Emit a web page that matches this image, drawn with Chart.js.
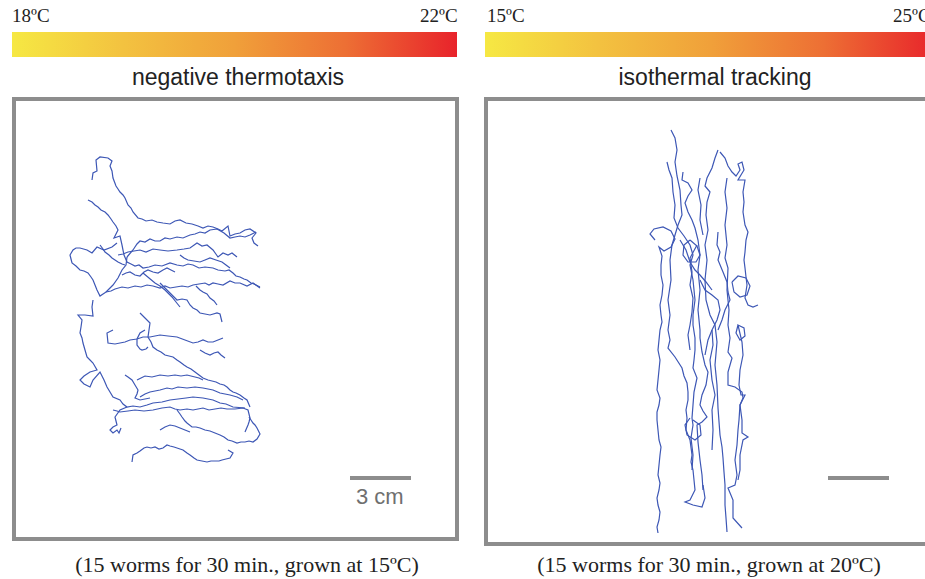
<!DOCTYPE html>
<html>
<head>
<meta charset="utf-8">
<script src="https://cdn.jsdelivr.net/npm/chart.js@4"></script>
<style>
  html, body { margin: 0; padding: 0; background: #fff; }
  #page { position: relative; width: 925px; height: 579px; overflow: hidden; }
  #tracks { position: absolute; left: 0; top: 0; }
  .temp { position: absolute; top: 5px; font: 19px "Liberation Serif", serif; color: #222; }
  .bar { position: absolute; top: 32px; height: 25px;
         background: linear-gradient(to right, #f6e843 0%, #f3c240 25%, #f0a03a 50%, #ed6f34 75%, #e8232b 100%); }
  .title { position: absolute; top: 64px; width: 460px; text-align: center;
           font: 23px "Liberation Sans", Arial, sans-serif; color: #222; }
  .box { position: absolute; border: 4px solid #8d8d8d; box-sizing: border-box; }
  .scalebar { position: absolute; height: 4px; background: #8d8d8d; }
  .scaletxt { position: absolute; font: 22px "Liberation Sans", Arial, sans-serif; color: #6f6f6f; }
  .caption { position: absolute; top: 552px; font: 22px "Liberation Serif", serif; color: #222; text-align: center; width: 460px; }
</style>
</head>
<body>
<div id="page">
  <div class="temp" id="tL1" style="left:12px"></div>
  <div class="temp" id="tL2" style="left:420px"></div>
  <div class="temp" id="tR1" style="left:487px"></div>
  <div class="temp" id="tR2" style="left:893px"></div>
  <div class="bar" style="left:12px; width:445px"></div>
  <div class="bar" style="left:485px; width:452px"></div>
  <div class="title" id="titleL" style="left:8px"></div>
  <div class="title" id="titleR" style="left:485px"></div>
  <div class="box" style="left:12px; top:97px; width:447px; height:444px"></div>
  <div class="box" style="left:484px; top:97px; width:460px; height:449px"></div>
  <div class="scalebar" style="left:350px; top:476px; width:61px"></div>
  <div class="scalebar" style="left:828px; top:476px; width:61px"></div>
  <div class="scaletxt" id="scaleL" style="left:356px; top:484px"></div>
  <div class="caption" id="capL" style="left:17px"></div>
  <div class="caption" id="capR" style="left:479px"></div>
  <canvas id="tracks" width="925" height="579"></canvas>
</div>
<script>
// labels
const tempLabelsL = ["18ºC", "22ºC"];
const tempLabelsR = ["15ºC", "25ºC"];
const panelTitles = ["negative thermotaxis", "isothermal tracking"];
const captions = ["(15 worms for 30 min., grown at 15ºC)", "(15 worms for 30 min., grown at 20ºC)"];
const scaleLabel = "3 cm";

// worm tracks, negative thermotaxis plate (x, y)
const negTracks = [
  [[92,180],[93,173],[97,171],[96,160],[100,157],[108,158],[112,161],[110,166],[112,171],[113,178],[116,186],[118,189],[120,192],[123,195],[125,198],[128,205],[131,208],[133,212],[138,218],[142,219],[146,221],[152,220],[157,222],[163,223],[170,224],[175,221],[180,220],[186,223],[192,224],[198,226],[203,228],[208,226],[213,227],[218,229],[222,231],[228,226],[230,236],[235,234],[240,233],[245,230],[250,229],[256,233],[252,238],[254,243],[258,246]],
  [[88,200],[92,202],[95,205],[98,207],[101,210],[105,212],[108,215],[111,219],[113,222],[116,226],[118,230],[114,238],[120,236],[122,245],[124,255],[127,262],[131,264],[135,266],[139,265],[143,268],[149,267],[155,265],[162,266],[170,263],[177,265],[183,266],[188,264],[193,265],[199,268],[205,267],[213,268],[218,270],[225,271],[229,270],[233,273],[236,276],[240,277],[244,279],[247,280],[251,283],[254,284],[260,287]],
  [[117,243],[112,247],[104,250],[97,247],[92,253],[87,250],[80,248],[76,248],[73,250],[70,255],[71,259],[72,263],[76,266],[80,270],[84,271],[88,273],[91,277],[93,280],[95,285],[97,290],[100,296],[106,292],[111,291],[115,289],[122,287],[128,288],[135,286],[141,287],[147,285],[153,286],[160,288],[165,286],[170,288],[176,287],[182,286],[188,287],[193,285],[199,284],[205,283],[209,285],[213,283],[218,284],[223,285],[230,281],[235,283],[240,283],[247,286],[253,283],[260,288]],
  [[127,257],[133,250],[137,244],[140,241],[145,242],[150,239],[155,241],[160,241],[165,238],[170,239],[177,237],[183,238],[190,235],[195,234],[200,232],[205,233],[210,230],[217,229],[224,233],[230,238],[235,237],[240,236],[245,237],[250,235],[256,232]],
  [[118,255],[123,254],[128,252],[134,251],[140,250],[146,252],[153,249],[160,250],[168,251],[177,250],[184,249],[190,248],[197,243],[202,246],[207,245],[213,250],[218,257],[223,253],[228,255],[232,253],[237,257]],
  [[93,300],[92,307],[93,316],[85,315],[78,315],[82,320],[81,327],[80,333],[82,338],[83,343],[85,350],[87,357],[90,360],[93,363],[97,370],[90,372],[84,376],[80,380],[84,384],[90,387],[93,380],[100,372],[104,380],[107,387],[110,392],[113,397],[120,400],[123,404],[127,407],[133,406],[140,407],[147,405],[153,403],[162,402],[170,400],[178,399],[186,398],[193,397],[203,398],[213,400],[220,403],[226,404],[233,407],[245,408]],
  [[160,283],[165,288],[170,293],[174,297],[177,300],[182,299],[187,300],[190,305],[193,308],[197,310],[200,313],[205,314],[210,315],[217,313],[220,314],[222,322]],
  [[143,273],[149,278],[155,283],[160,286],[165,290],[169,294],[172,297],[176,302],[180,307]],
  [[196,286],[200,290],[203,292],[207,294],[210,298],[214,301],[217,305]],
  [[113,330],[107,333],[108,343],[115,344],[120,343],[125,342],[130,340],[137,339],[143,337],[150,337],[160,335],[168,336],[177,337],[185,340],[193,343],[198,342],[203,340],[208,342],[213,342],[218,340],[223,338]],
  [[140,313],[145,318],[150,323],[149,330],[148,337],[151,342],[153,347],[157,350],[161,352],[165,355],[169,356],[173,357],[177,360],[180,362],[184,365],[187,367],[191,369],[195,372],[199,375],[203,378],[208,380],[212,381],[216,382],[220,384],[224,385],[227,387],[230,390],[233,392],[236,393],[240,395],[244,398],[247,400],[250,407]],
  [[137,380],[141,378],[145,376],[152,377],[160,375],[168,376],[175,375],[181,376],[187,375],[195,377],[199,378],[203,380]],
  [[140,397],[145,394],[150,392],[155,391],[160,390],[167,388],[172,389],[178,387],[187,388],[195,387],[203,388],[208,389],[213,390],[220,393],[225,394],[230,395],[237,397],[243,400]],
  [[113,410],[117,411],[120,412],[128,411],[135,410],[144,411],[153,410],[162,408],[170,407],[175,409],[180,410],[187,409],[193,410],[198,409],[203,408],[209,410],[215,409],[221,408],[227,409],[235,409],[243,408],[248,410],[250,418],[249,422],[248,425],[245,432]],
  [[177,410],[180,414],[182,417],[185,421],[187,423],[192,427],[196,427],[200,428],[205,430],[210,431],[215,433],[220,435],[224,437],[228,440],[232,441],[237,443],[241,442],[245,442],[249,441],[253,442],[257,439],[260,434],[257,428],[255,425],[253,423],[251,420],[249,417]],
  [[127,407],[120,410],[115,417],[117,425],[113,427],[110,430],[113,433],[117,430],[119,433],[121,428]],
  [[132,462],[133,455],[137,453],[140,451],[144,448],[147,447],[151,448],[155,447],[159,449],[163,448],[167,445],[170,446],[174,447],[177,448],[180,449],[183,450],[187,453],[190,455],[194,458],[197,460],[202,461],[207,462],[211,461],[215,461],[219,461],[222,460],[226,459],[230,458],[233,453],[228,450]],
  [[100,245],[103,249],[105,252],[109,255],[112,258],[115,260],[118,262],[122,264],[125,265]],
  [[122,275],[126,273],[130,272],[135,275],[140,276],[144,272],[148,270],[153,272],[158,273],[163,270],[167,268],[171,270],[175,272]],
  [[180,255],[184,258],[188,260],[194,261],[200,262],[205,260],[210,258],[216,260],[222,262],[226,265],[230,268]],
  [[145,330],[140,333],[137,339],[137,345],[140,349],[142,350],[146,349],[148,347]],
  [[200,350],[205,353],[210,355],[214,353],[218,352],[221,355],[225,358]],
  [[125,375],[128,377],[132,380],[135,385],[138,390],[137,394],[135,398],[140,400],[145,399],[150,398]],
  [[160,430],[165,427],[170,425],[175,426],[180,428],[185,430],[190,432]],
  [[127,257],[126,265],[122,270],[118,278],[113,285],[106,292]]
];

// worm tracks, isothermal tracking plate
const isoTracks = [
  [[655,240],[650,234],[654,229],[663,227],[671,231],[675,239],[671,247],[664,251],[659,247],[662,256],[661,265],[661,275],[663,285],[662,295],[660,305],[661,315],[662,322],[660,330],[659,340],[658,350],[660,360],[659,370],[658,380],[657,390],[660,398],[659,405],[657,412],[657,420],[658,430],[659,440],[661,447],[660,455],[659,465],[658,475],[660,483],[659,490],[657,498],[658,505],[660,512],[659,520],[657,527],[658,533]],
  [[671,130],[675,138],[677,150],[675,162],[677,176],[680,190],[681,205],[682,215],[678,225],[675,235],[672,245],[670,260],[671,280],[668,300],[670,315],[668,330],[670,340],[668,348],[675,357],[682,368],[684,376],[687,383],[688,392],[688,400],[686,410],[687,418],[686,430],[690,440],[692,455],[691,462],[693,470],[694,480],[695,490],[690,500],[685,502],[693,505],[702,507],[705,498],[703,485]],
  [[667,162],[669,170],[672,178],[673,192],[675,205],[674,218],[678,228],[684,236],[690,245],[693,255],[690,265],[693,280],[695,300],[693,315],[693,325],[695,338],[695,350],[694,360],[693,368],[697,378],[694,392],[693,405],[692,418],[693,425],[691,438],[693,455],[692,470]],
  [[683,172],[682,180],[688,183],[692,190],[688,196],[685,203],[688,212],[692,220],[695,228],[698,240],[700,255],[698,270],[700,290],[698,310],[700,330],[700,338],[702,352],[705,365],[708,372],[706,385],[702,395],[700,405],[703,411],[707,417],[702,422],[697,425],[698,442],[700,460],[702,475],[703,490]],
  [[718,150],[715,158],[712,168],[707,178],[705,186],[710,192],[707,202],[706,215],[708,230],[705,245],[707,260],[705,280],[706,300],[710,315],[715,325],[717,342],[715,365],[717,385],[718,408],[720,435],[722,447],[723,458],[724,472],[725,485],[725,505],[726,518],[727,532]],
  [[720,152],[725,158],[728,166],[732,172],[736,176],[740,170],[738,164],[742,162],[744,170],[738,180],[745,180],[743,192],[744,202],[743,212],[745,225],[748,232],[746,240],[745,252],[744,260],[745,268],[746,277],[747,285],[745,298],[748,305],[753,307],[758,305]],
  [[727,178],[725,192],[727,208],[725,225],[727,245],[725,258],[728,268],[727,290],[729,310],[728,325],[730,338],[728,352],[732,358],[728,372],[728,385],[735,387],[742,392],[743,398],[740,405],[739,420],[738,430],[737,445],[735,460],[737,475],[735,485],[728,488],[733,500],[733,518],[742,528]],
  [[738,325],[736,333],[740,340],[745,336],[744,328],[738,325],[742,342],[743,355],[740,370],[739,385],[741,395],[745,395],[740,405],[742,420],[742,433],[748,437],[743,440],[740,455],[740,470],[738,480]],
  [[718,232],[717,245],[720,252],[718,260],[723,272],[727,282],[728,292],[730,300],[725,310],[722,320],[718,330]],
  [[697,245],[690,258],[692,272],[690,285],[693,298],[692,312],[690,325],[688,335],[690,350]],
  [[700,280],[705,290],[712,295],[718,300],[720,310],[717,320],[712,330],[708,340],[705,355]],
  [[680,240],[686,250],[690,262],[695,270],[700,275],[706,282],[712,290]],
  [[690,240],[684,245],[683,255],[688,262],[696,262],[700,255],[697,246],[690,240]],
  [[712,330],[713,345],[710,360],[712,380],[715,395],[712,410],[713,430],[712,450]],
  [[732,282],[738,276],[746,278],[750,286],[747,295],[740,297],[734,292],[732,282]],
  [[690,418],[685,425],[687,435],[695,440],[701,435],[700,425],[693,420]],
  [[700,178],[698,190],[701,205],[700,220],[703,235]]
];

document.getElementById("tL1").textContent = tempLabelsL[0];
document.getElementById("tL2").textContent = tempLabelsL[1];
document.getElementById("tR1").textContent = tempLabelsR[0];
document.getElementById("tR2").textContent = tempLabelsR[1];
document.getElementById("titleL").textContent = panelTitles[0];
document.getElementById("titleR").textContent = panelTitles[1];
document.getElementById("capL").textContent = captions[0];
document.getElementById("capR").textContent = captions[1];
document.getElementById("scaleL").textContent = scaleLabel;

const trackColor = "#3d57b5";

function toDataset(track) {
  return {
    data: track.map(p => ({ x: p[0], y: p[1] })),
    showLine: true,
    borderColor: trackColor,
    borderWidth: 1.2,
    pointRadius: 0,
    tension: 0
  };
}

const datasets = negTracks.map(toDataset).concat(isoTracks.map(toDataset));

new Chart(document.getElementById("tracks").getContext("2d"), {
  type: "scatter",
  data: { datasets: datasets },
  options: {
    responsive: false,
    animation: false,
    layout: { padding: 0 },
    plugins: { legend: { display: false }, tooltip: { enabled: false } },
    scales: {
      x: { type: "linear", min: 0, max: 925, display: false },
      y: { type: "linear", min: 0, max: 579, reverse: true, display: false }
    }
  }
});
</script>
</body>
</html>
